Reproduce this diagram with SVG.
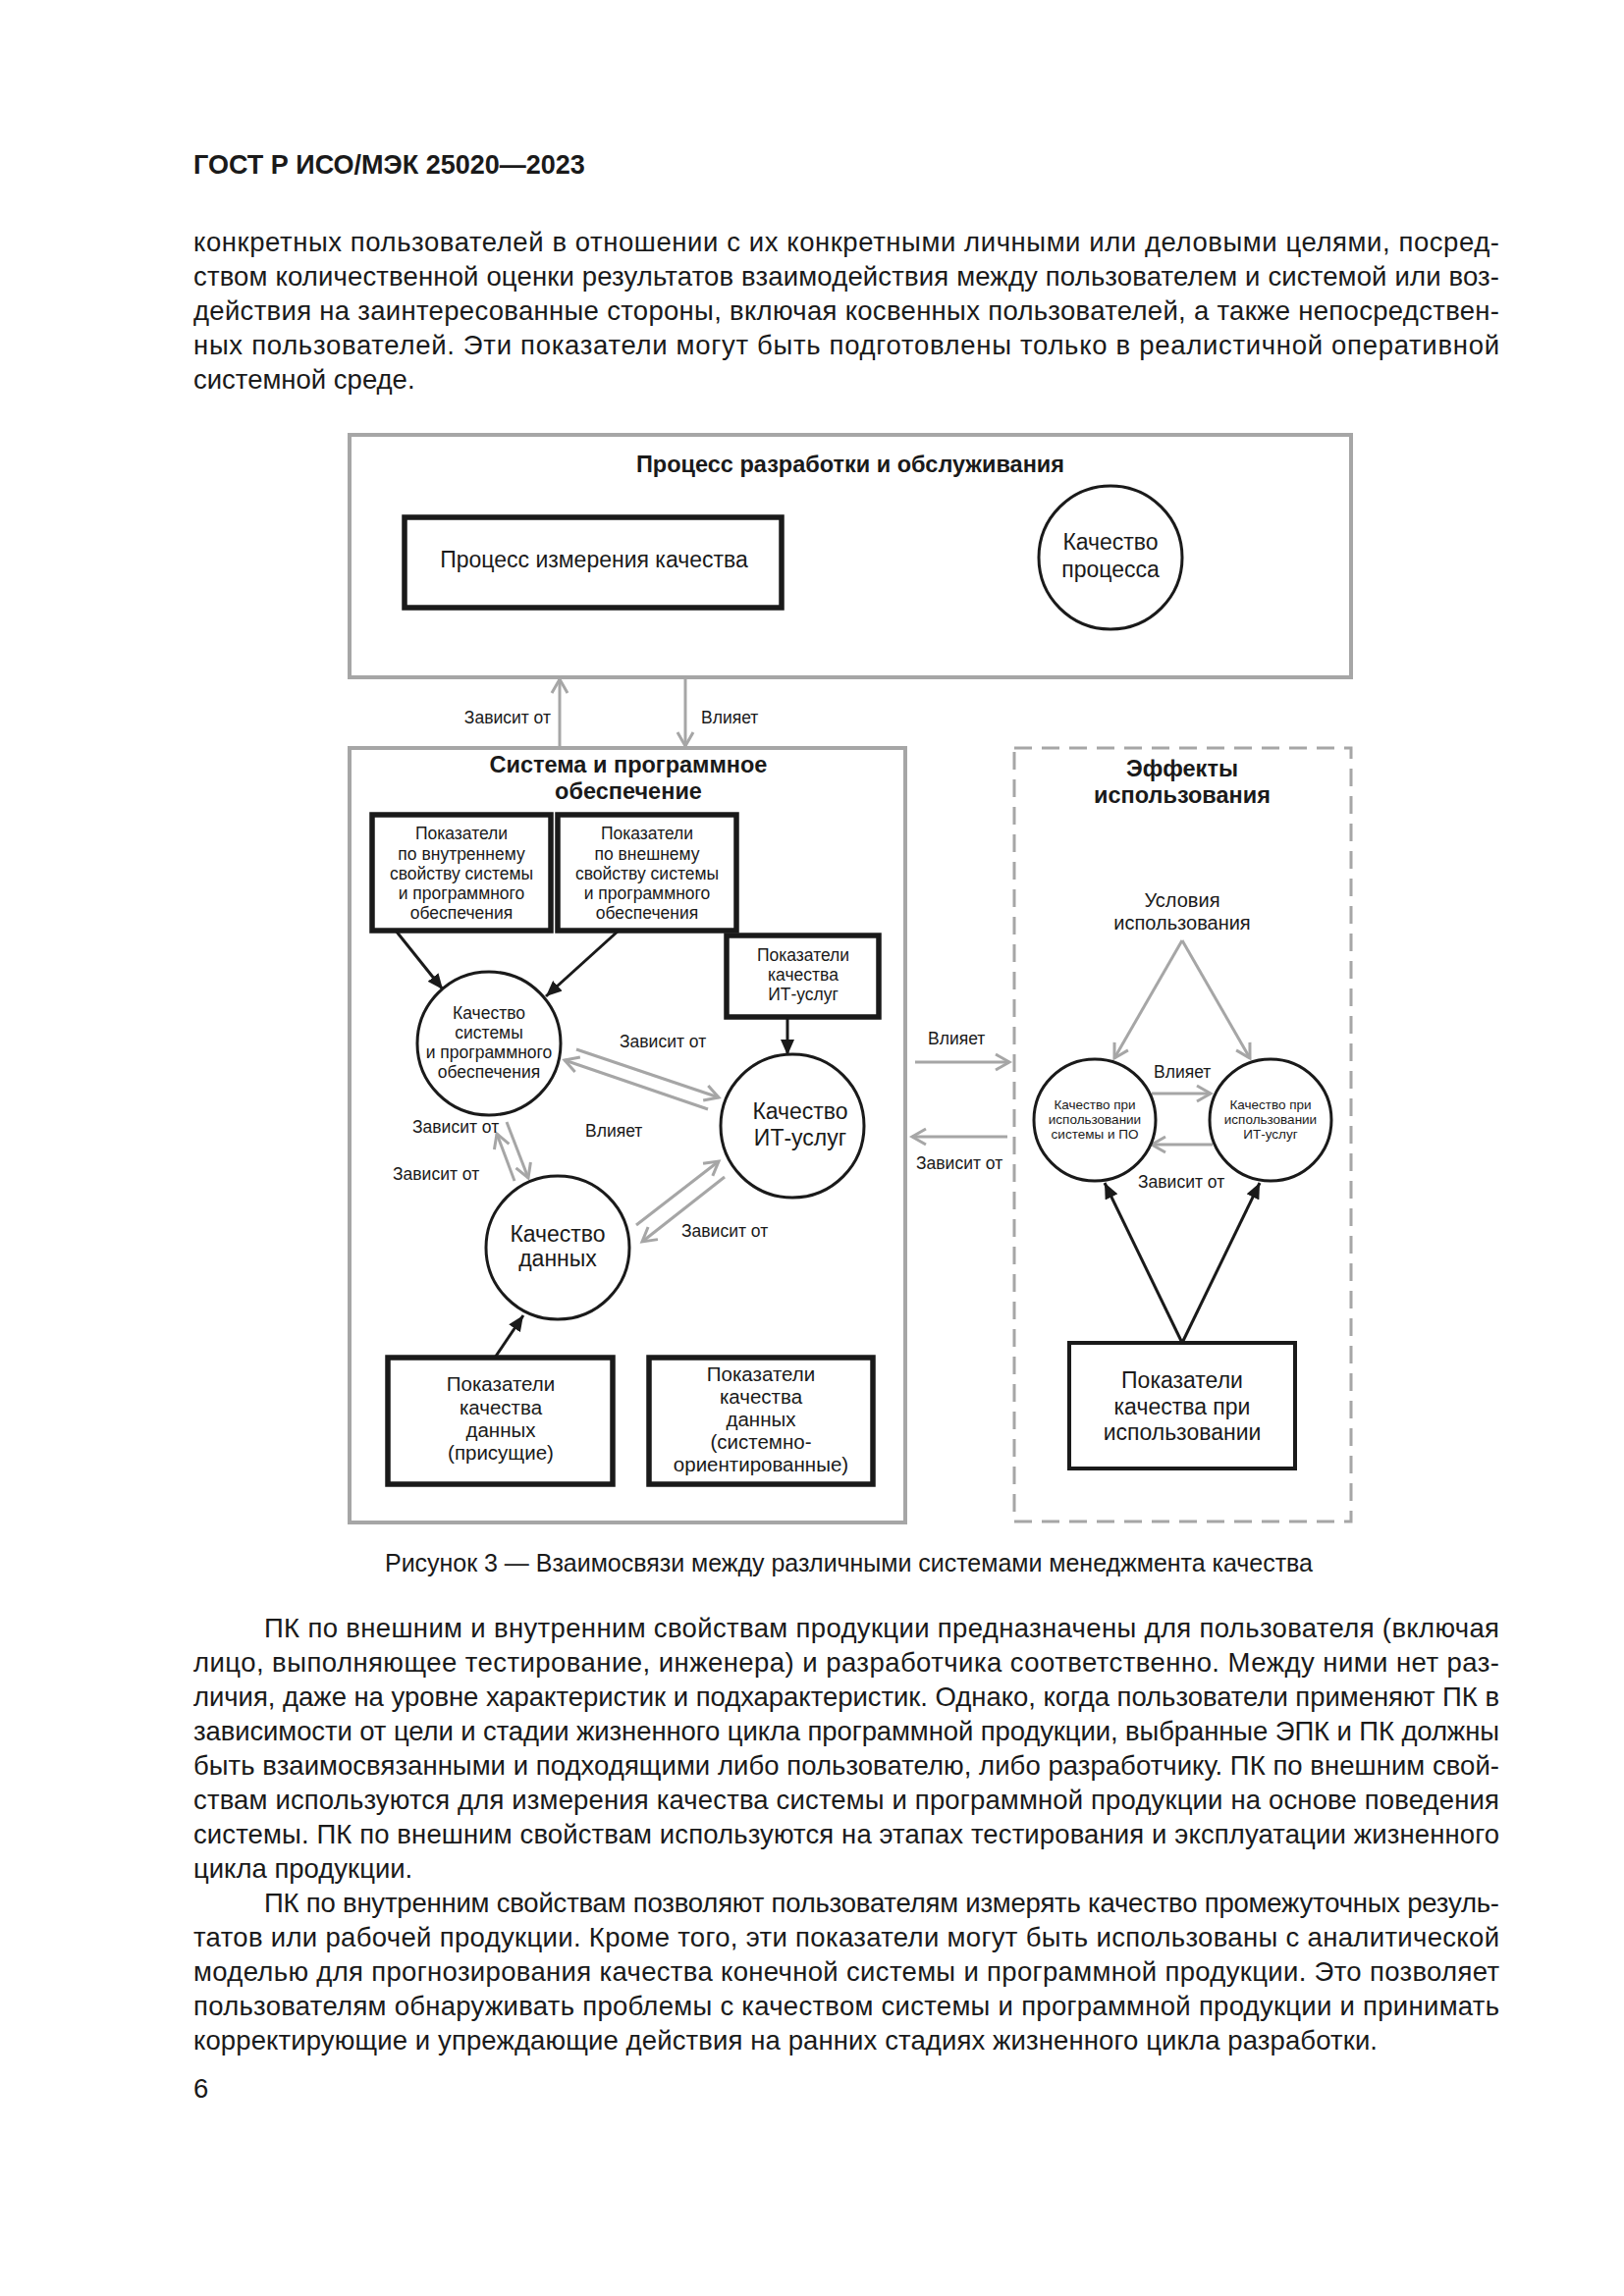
<svg xmlns="http://www.w3.org/2000/svg" width="1654" height="2339" viewBox="0 0 1654 2339">
<style>
text{font-family:"Liberation Sans",Arial,sans-serif;fill:#1a1a1a}
.body{font-size:27.5px}
.hdr{font-size:27px;font-weight:bold}
.cap{font-size:25px}
.ttl{font-size:23.5px;font-weight:bold;text-anchor:middle}
.c{text-anchor:middle}
.e{text-anchor:end}
.f23{font-size:23px}
.f20{font-size:20.5px}
.f18{font-size:17.5px}
.f19{font-size:20px}
.f13{font-size:13.5px}
.lbl{font-size:17.5px}
.frame{fill:none;stroke:#a6a6a6;stroke-width:4}
.dash{fill:none;stroke:#a6a6a6;stroke-width:3;stroke-dasharray:18 10}
.box{fill:#fff;stroke:#1a1a1a;stroke-width:5.5}
.box4{fill:#fff;stroke:#1a1a1a;stroke-width:4}
.circ{fill:#fff;stroke:#1a1a1a;stroke-width:3}
.ga{fill:none;stroke:#a6a6a6;stroke-width:3;marker-end:url(#gh)}
.ba{fill:none;stroke:#1a1a1a;stroke-width:3;marker-end:url(#bh)}
</style>
<defs>
<marker id="gh" viewBox="0 0 16 18" refX="15" refY="9" markerWidth="16" markerHeight="18" markerUnits="userSpaceOnUse" orient="auto" overflow="visible">
<path d="M1,1 L15,9 L1,17" fill="none" stroke="#a6a6a6" stroke-width="3"/>
</marker>
<marker id="bh" viewBox="0 0 16 14" refX="16" refY="7" markerWidth="16" markerHeight="14" markerUnits="userSpaceOnUse" orient="auto">
<path d="M0,0 L16,7 L0,14 Z" fill="#1a1a1a"/>
</marker>
</defs>
<rect width="1654" height="2339" fill="#fff"/>

<g id="page-text">
<text class="hdr" x="197" y="177">ГОСТ Р ИСО/МЭК 25020—2023</text>
<text class="body" x="197" y="256" textLength="1330" lengthAdjust="spacing">конкретных пользователей в отношении с их конкретными личными или деловыми целями, посред-</text>
<text class="body" x="197" y="291" textLength="1330" lengthAdjust="spacing">ством количественной оценки результатов взаимодействия между пользователем и системой или воз-</text>
<text class="body" x="197" y="326" textLength="1330" lengthAdjust="spacing">действия на заинтересованные стороны, включая косвенных пользователей, а также непосредствен-</text>
<text class="body" x="197" y="361" textLength="1330" lengthAdjust="spacing">ных пользователей. Эти показатели могут быть подготовлены только в реалистичной оперативной</text>
<text class="body" x="197" y="396">системной среде.</text>

<text class="cap" x="392" y="1601" textLength="945" lengthAdjust="spacing">Рисунок 3 — Взаимосвязи между различными системами менеджмента качества</text>

<text class="body" x="269" y="1668" textLength="1258" lengthAdjust="spacing">ПК по внешним и внутренним свойствам продукции предназначены для пользователя (включая</text>
<text class="body" x="197" y="1703" textLength="1330" lengthAdjust="spacing">лицо, выполняющее тестирование, инженера) и разработчика соответственно. Между ними нет раз-</text>
<text class="body" x="197" y="1738" textLength="1330" lengthAdjust="spacing">личия, даже на уровне характеристик и подхарактеристик. Однако, когда пользователи применяют ПК в</text>
<text class="body" x="197" y="1773" textLength="1330" lengthAdjust="spacing">зависимости от цели и стадии жизненного цикла программной продукции, выбранные ЭПК и ПК должны</text>
<text class="body" x="197" y="1808" textLength="1330" lengthAdjust="spacing">быть взаимосвязанными и подходящими либо пользователю, либо разработчику. ПК по внешним свой-</text>
<text class="body" x="197" y="1843" textLength="1330" lengthAdjust="spacing">ствам используются для измерения качества системы и программной продукции на основе поведения</text>
<text class="body" x="197" y="1878" textLength="1330" lengthAdjust="spacing">системы. ПК по внешним свойствам используются на этапах тестирования и эксплуатации жизненного</text>
<text class="body" x="197" y="1913">цикла продукции.</text>
<text class="body" x="269" y="1948" textLength="1258" lengthAdjust="spacing">ПК по внутренним свойствам позволяют пользователям измерять качество промежуточных резуль-</text>
<text class="body" x="197" y="1983" textLength="1330" lengthAdjust="spacing">татов или рабочей продукции. Кроме того, эти показатели могут быть использованы с аналитической</text>
<text class="body" x="197" y="2018" textLength="1330" lengthAdjust="spacing">моделью для прогнозирования качества конечной системы и программной продукции. Это позволяет</text>
<text class="body" x="197" y="2053" textLength="1330" lengthAdjust="spacing">пользователям обнаруживать проблемы с качеством системы и программной продукции и принимать</text>
<text class="body" x="197" y="2088" textLength="1206" lengthAdjust="spacing">корректирующие и упреждающие действия на ранних стадиях жизненного цикла разработки.</text>
<text class="body" x="197" y="2137">6</text>
</g>

<g id="process-frame">
<rect class="frame" x="356" y="443" width="1020" height="247"/>
<text class="ttl" x="866" y="481">Процесс разработки и обслуживания</text>
</g>
<g id="system-frame">
<rect class="frame" x="356" y="762" width="566" height="789"/>
<text class="ttl" x="640" y="787">Система и программное</text>
<text class="ttl" x="640" y="814">обеспечение</text>
</g>
<g id="effects-frame">
<rect class="dash" x="1033" y="762" width="343" height="788"/>
<text class="ttl" x="1204" y="791">Эффекты</text>
<text class="ttl" x="1204" y="818">использования</text>
</g>

<g id="connectors">
<line class="ga" x1="570" y1="762" x2="570" y2="692"/>
<line class="ga" x1="698" y1="692" x2="698" y2="760"/>
<line class="ga" x1="587" y1="1069" x2="732" y2="1118"/>
<line class="ga" x1="721" y1="1130" x2="575" y2="1080"/>
<line class="ga" x1="516" y1="1143" x2="538" y2="1200"/>
<line class="ga" x1="524" y1="1203" x2="506" y2="1155"/>
<line class="ga" x1="648" y1="1248" x2="732" y2="1183"/>
<line class="ga" x1="738" y1="1199" x2="654" y2="1265"/>
<line class="ga" x1="932" y1="1082" x2="1028" y2="1082"/>
<line class="ga" x1="1026" y1="1158" x2="929" y2="1158"/>
<line class="ga" x1="1204" y1="958" x2="1135" y2="1078"/>
<line class="ga" x1="1204" y1="958" x2="1273" y2="1078"/>
<line class="ga" x1="1173" y1="1114" x2="1233" y2="1114"/>
<line class="ga" x1="1235" y1="1166" x2="1173" y2="1166"/>
<line class="ba" x1="403" y1="948" x2="451" y2="1008"/>
<line class="ba" x1="630" y1="948" x2="556" y2="1015"/>
<line class="ba" x1="802" y1="1037" x2="802" y2="1075"/>
<line class="ba" x1="504" y1="1383" x2="533" y2="1340"/>
<line class="ba" x1="1204" y1="1368" x2="1125" y2="1205"/>
<line class="ba" x1="1204" y1="1368" x2="1283" y2="1205"/>
<text class="lbl e" x="561" y="737">Зависит от</text>
<text class="lbl" x="714" y="737">Влияет</text>
<text class="lbl" x="631" y="1067">Зависит от</text>
<text class="lbl" x="420" y="1154">Зависит от</text>
<text class="lbl" x="400" y="1202">Зависит от</text>
<text class="lbl" x="596" y="1158">Влияет</text>
<text class="lbl" x="694" y="1260">Зависит от</text>
<text class="lbl" x="945" y="1064">Влияет</text>
<text class="lbl" x="933" y="1191">Зависит от</text>
<text class="lbl" x="1175" y="1098">Влияет</text>
<text class="lbl" x="1159" y="1210">Зависит от</text>
</g>

<g id="n-measure-process">
<rect class="box" x="412" y="527" width="384" height="92"/>
<text class="f23 c" x="605" y="578">Процесс измерения качества</text>
</g>
<g id="n-process-quality">
<circle class="circ" cx="1131" cy="568" r="73"/>
<text class="f23 c" x="1131" y="560">Качество</text>
<text class="f23 c" x="1131" y="588">процесса</text>
</g>
<g id="n-internal-measures">
<rect class="box" x="379" y="830" width="182" height="118"/>
<text class="f18 c" x="470" y="855">Показатели</text>
<text class="f18 c" x="470" y="876">по внутреннему</text>
<text class="f18 c" x="470" y="896">свойству системы</text>
<text class="f18 c" x="470" y="916">и программного</text>
<text class="f18 c" x="470" y="936">обеспечения</text>
</g>
<g id="n-external-measures">
<rect class="box" x="568" y="830" width="182" height="118"/>
<text class="f18 c" x="659" y="855">Показатели</text>
<text class="f18 c" x="659" y="876">по внешнему</text>
<text class="f18 c" x="659" y="896">свойству системы</text>
<text class="f18 c" x="659" y="916">и программного</text>
<text class="f18 c" x="659" y="936">обеспечения</text>
</g>
<g id="n-it-measures">
<rect class="box" x="740" y="953" width="155" height="83"/>
<text class="f18 c" x="818" y="979">Показатели</text>
<text class="f18 c" x="818" y="999">качества</text>
<text class="f18 c" x="818" y="1019">ИТ-услуг</text>
</g>
<g id="n-system-quality">
<circle class="circ" cx="498" cy="1063" r="73"/>
<text class="f18 c" x="498" y="1038">Качество</text>
<text class="f18 c" x="498" y="1058">системы</text>
<text class="f18 c" x="498" y="1078">и программного</text>
<text class="f18 c" x="498" y="1098">обеспечения</text>
</g>
<g id="n-it-quality">
<circle class="circ" cx="807" cy="1147" r="73"/>
<text class="f23 c" x="815" y="1140">Качество</text>
<text class="f23 c" x="815" y="1167">ИТ-услуг</text>
</g>
<g id="n-data-quality">
<circle class="circ" cx="568" cy="1271" r="73"/>
<text class="f23 c" x="568" y="1265">Качество</text>
<text class="f23 c" x="568" y="1290">данных</text>
</g>
<g id="n-data-inherent">
<rect class="box" x="395" y="1383" width="229" height="129"/>
<text class="f20 c" x="510" y="1417">Показатели</text>
<text class="f20 c" x="510" y="1441">качества</text>
<text class="f20 c" x="510" y="1464">данных</text>
<text class="f20 c" x="510" y="1487">(присущие)</text>
</g>
<g id="n-data-system">
<rect class="box" x="661" y="1383" width="228" height="129"/>
<text class="f20 c" x="775" y="1407">Показатели</text>
<text class="f20 c" x="775" y="1430">качества</text>
<text class="f20 c" x="775" y="1453">данных</text>
<text class="f20 c" x="775" y="1476">(системно-</text>
<text class="f20 c" x="775" y="1499">ориентированные)</text>
</g>
<g id="n-context">
<text class="f19 c" x="1204" y="924">Условия</text>
<text class="f19 c" x="1204" y="947">использования</text>
</g>
<g id="n-use-system">
<circle class="circ" cx="1115" cy="1141" r="62"/>
<text class="f13 c" x="1115" y="1130">Качество при</text>
<text class="f13 c" x="1115" y="1145">использовании</text>
<text class="f13 c" x="1115" y="1160">системы и ПО</text>
</g>
<g id="n-use-it">
<circle class="circ" cx="1294" cy="1141" r="62"/>
<text class="f13 c" x="1294" y="1130">Качество при</text>
<text class="f13 c" x="1294" y="1145">использовании</text>
<text class="f13 c" x="1294" y="1160">ИТ-услуг</text>
</g>
<g id="n-use-measures">
<rect class="box4" x="1089" y="1368" width="230" height="128"/>
<text class="f23 c" x="1204" y="1414">Показатели</text>
<text class="f23 c" x="1204" y="1441">качества при</text>
<text class="f23 c" x="1204" y="1467">использовании</text>
</g>
</svg>
